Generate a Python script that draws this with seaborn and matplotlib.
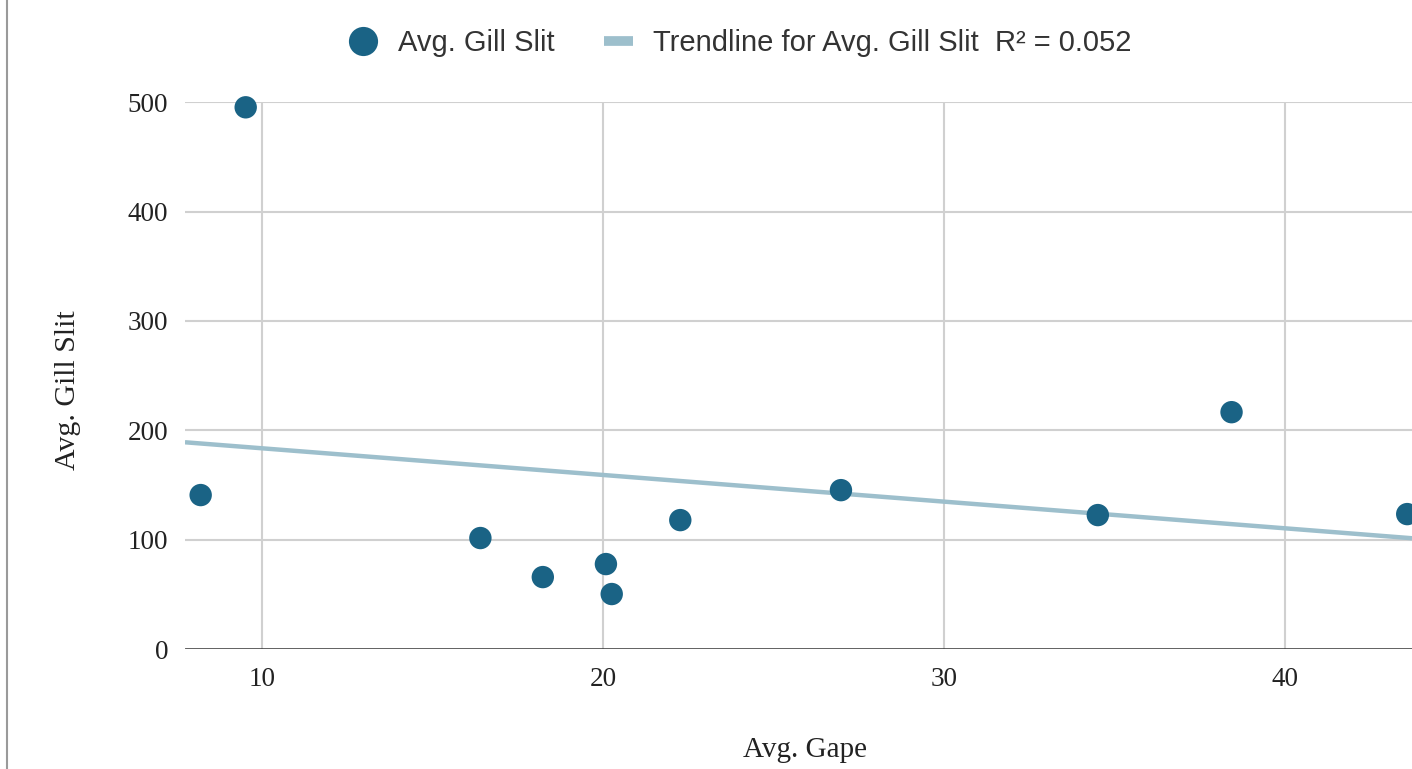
import numpy as np
import pandas as pd
import matplotlib
matplotlib.use("Agg")
import matplotlib.pyplot as plt
from matplotlib.lines import Line2D
import seaborn as sns

# Average gape vs. average gill slit measurements
avg_gape = [8.21, 9.53, 16.41, 18.24, 20.09, 20.26, 22.27, 26.98, 34.51, 38.43, 43.58]
avg_gill_slit = [140.8, 495.4, 101.5, 65.8, 77.7, 50.3, 117.9, 145.3, 122.5, 216.6, 123.4]
x_ticks = [10, 20, 30, 40]
y_ticks = [0, 100, 200, 300, 400, 500]
r_squared_label = "R\u00b2 = 0.052"

df = pd.DataFrame({"Avg. Gape": avg_gape, "Avg. Gill Slit": avg_gill_slit})

point_color = "#1a6385"
trend_color = "#9dbfcc"

sns.set_theme(style="white")
plt.rcParams["font.family"] = ["Liberation Serif", "DejaVu Serif"]

fig = plt.figure(figsize=(14.12, 7.69), dpi=100)
ax = fig.add_axes([0.131, 0.156, 0.869, 0.711])

ax.set_xlim(7.75, 43.72)
ax.set_ylim(0, 500)

# grid
for yt in y_ticks[1:]:
    ax.axhline(yt, color="#d0d0d0", lw=1.5, zorder=0)
for xt in x_ticks:
    ax.axvline(xt, color="#d0d0d0", lw=1.5, zorder=0)
ax.axhline(0, color="#333333", lw=1.8, zorder=1)

# linear trendline across the visible range
sns.regplot(data=df, x="Avg. Gape", y="Avg. Gill Slit", ax=ax, scatter=False,
            ci=None, truncate=False, color=trend_color,
            line_kws={"lw": 3.2, "zorder": 2, "solid_capstyle": "butt"})

sns.scatterplot(data=df, x="Avg. Gape", y="Avg. Gill Slit", ax=ax, s=260,
                color=point_color, edgecolor="none", zorder=3, clip_on=False)

ax.set_xlim(7.75, 43.72)
ax.set_ylim(0, 500)
ax.set_xticks(x_ticks)
ax.set_yticks(y_ticks)
ax.tick_params(axis="both", length=0, labelsize=19.5, colors="#222222")
ax.tick_params(axis="y", pad=12)
ax.tick_params(axis="x", pad=13)
for s in ax.spines.values():
    s.set_visible(False)

ax.set_xlabel("")
ax.set_ylabel("")
fig.text(805 / 1412, 1 - 750 / 769, "Avg. Gape", ha="center", va="center",
         fontsize=21, color="#222222")
fig.text(68 / 1412, 1 - 390 / 769, "Avg. Gill Slit", ha="center", va="center",
         rotation=90, fontsize=21.5, color="#222222")

# legend
handles = [
    Line2D([], [], marker="o", linestyle="none", markersize=21,
           markerfacecolor=point_color, markeredgecolor="none"),
    Line2D([], [], color=trend_color, lw=7, solid_capstyle="butt"),
]
labels = ["Avg. Gill Slit", "Trendline for Avg. Gill Slit  " + r_squared_label]
leg = fig.legend(handles, labels, loc="center",
                 bbox_to_anchor=(740 / 1412, 1 - 43 / 769),
                 ncol=2, frameon=False, handlelength=1.0, columnspacing=1.7,
                 handletextpad=0.7, borderpad=0, borderaxespad=0,
                 prop={"family": ["Liberation Sans", "DejaVu Sans"], "size": 21})
for t in leg.get_texts():
    t.set_color("#333333")

# left page border
fig.add_artist(Line2D([7 / 1412, 7 / 1412], [0, 1], color="#9a9a9a", lw=1.5,
                      transform=fig.transFigure))

fig.savefig("out.png", dpi=100, facecolor="white")
